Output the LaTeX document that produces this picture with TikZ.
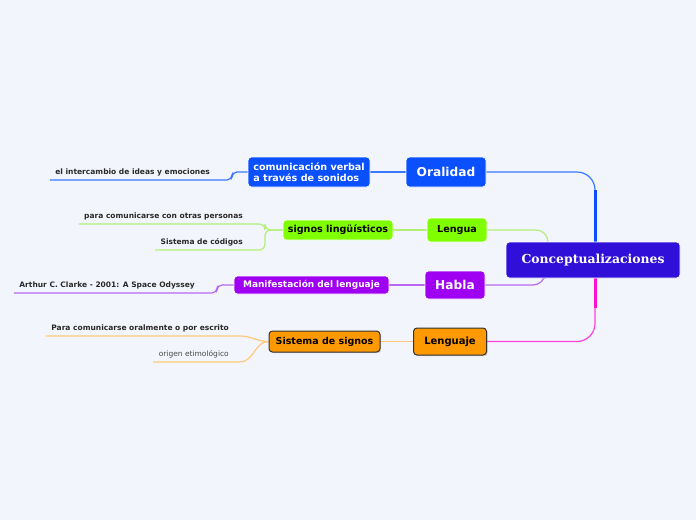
\documentclass[tikz,border=0pt]{standalone}
\usepackage{fontspec}
\setmainfont{DejaVu Sans}
\newfontfamily\rootfont{DejaVu Serif}
\usetikzlibrary{shadows}
\definecolor{bgc}{HTML}{F3F5FD}
\definecolor{rootc}{HTML}{300FD8}
\definecolor{bluec}{HTML}{0A50FF}
\definecolor{bluel}{HTML}{3A78FF}
\definecolor{greenc}{HTML}{80FF00}
\definecolor{greenl}{HTML}{B2EE78}
\definecolor{purc}{HTML}{A000F2}
\definecolor{purl}{HTML}{B868EE}
\definecolor{orc}{HTML}{FF9900}
\definecolor{orl}{HTML}{FFC77A}
\definecolor{magc}{HTML}{FF10D0}
\definecolor{txtc}{HTML}{2A2A2A}
\pgfdeclarelayer{back}
\pgfdeclarelayer{lines}
\pgfsetlayers{back,lines,main}
\tikzset{
  box/.style={rounded corners=3.5pt, draw=white, line width=0.7pt, inner sep=0pt, align=center, font=\bfseries},
  bluebox/.style={box, fill=bluec, text=white},
  greenbox/.style={box, fill=greenc, text=black},
  purbox/.style={box, fill=purc, text=white},
  orbox/.style={box, fill=orc, text=black, draw=black!80, line width=1pt,
     drop shadow={shadow xshift=1.2pt, shadow yshift=-1.2pt, opacity=0.35}},
  leaf/.style={anchor=south east, inner xsep=5pt, inner ysep=0pt, text depth=5pt, text=txtc,
     font=\fontsize{7.5}{9}\selectfont\bfseries},
  conn/.style={line width=1.2pt, line cap=round},
}
\begin{document}
\begin{tikzpicture}[x=1pt,y=-1pt]
\begin{pgfonlayer}{back}
\fill[bgc] (0,0) rectangle (696,520);
\end{pgfonlayer}
\useasboundingbox (0,0) rectangle (696,520);

% root
\node[box, fill=rootc, text=white, minimum width=174pt, minimum height=36pt, font=\rootfont\bfseries\fontsize{12.4}{14}\selectfont] (root) at (593,260) {Conceptualizaciones};

% main branches
\node[bluebox, minimum width=80pt, minimum height=30pt, font=\bfseries\fontsize{12.2}{14}\selectfont] (oral) at (446,172) {Oralidad};
\node[greenbox, minimum width=60pt, minimum height=24pt, font=\bfseries\fontsize{9.6}{11}\selectfont] (leng) at (457,230) {Lengua};
\node[purbox, minimum width=60pt, minimum height=28pt, font=\bfseries\fontsize{12.2}{14}\selectfont] (habla) at (455,285) {Habla};
\node[orbox, minimum width=73pt, minimum height=27pt, font=\bfseries\fontsize{10}{12}\selectfont] (lenguaje) at (450,341.5) {Lenguaje};

% second level
\node[bluebox, align=left, minimum width=122pt, minimum height=30pt, font=\bfseries\fontsize{9.6}{11.5}\selectfont] (comm) at (309,172) {comunicación verbal\\a través de sonidos};
\node[greenbox, minimum width=110pt, minimum height=20pt, font=\bfseries\fontsize{9.6}{11}\selectfont] (signos) at (338,230) {signos lingüísticos};
\node[purbox, minimum width=155pt, minimum height=18pt, font=\bfseries\fontsize{9}{11}\selectfont] (manif) at (311.5,285) {Manifestación del lenguaje};
\node[orbox, minimum width=111pt, minimum height=21pt, font=\bfseries\fontsize{9.5}{11}\selectfont] (sistema) at (324.5,341.5) {Sistema de signos};

% leaves
\node[leaf] (l1) at (215,180) {el intercambio de ideas y emociones};
\node[leaf] (l2) at (248,224) {para comunicarse con otras personas};
\node[leaf] (l3) at (248,250) {Sistema de códigos};
\node[leaf] (l4) at (200,293) {Arthur C. Clarke - 2001: A Space Odyssey};
\node[leaf] (l5) at (234,336) {Para comunicarse oralmente o por escrito};
\node[leaf, font=\fontsize{7.5}{9}\selectfont, text=txtc!85] (l6) at (234,362) {origen etimológico};

\begin{pgfonlayer}{lines}
% root connectors
\draw[conn, bluel, rounded corners=18pt] (oral.east) -| ([xshift=2pt]root.north);
\draw[bluec, line width=3pt] ([xshift=2pt]root.north) -- ++(0,-52);
\draw[conn, greenl, rounded corners=12pt] (leng.east) -| ([xshift=-45pt]root.north);
\draw[conn, purl, rounded corners=12pt] (habla.east) -| ([xshift=-48pt]root.south);
\draw[conn, magc!80, rounded corners=18pt] (lenguaje.east) -| ([xshift=2pt]root.south);
\draw[magc, line width=3pt] ([xshift=2pt]root.south) -- ++(0,30);
% sibling connectors
\draw[conn, bluel] (comm.east) -- (oral.west);
\draw[conn, greenl] (signos.east) -- (leng.west);
\draw[conn, purl] (manif.east) -- (habla.west);
\draw[conn, orl] (sistema.east) -- (lenguaje.west);
% leaf connectors
\draw[conn, bluel, rounded corners=5pt] (l1.south west) -- ([xshift=17pt]l1.south east) |- (comm.west);
\draw[conn, greenl, rounded corners=6pt] (l2.south west) -- ([xshift=17pt]l2.south east) |- (signos.west);
\draw[conn, greenl, rounded corners=6pt] (l3.south west) -- ([xshift=17pt]l3.south east) |- (signos.west);
\draw[conn, purl, rounded corners=5pt] (l4.south west) -- ([xshift=17pt]l4.south east) |- (manif.west);
\draw[conn, orl] (l5.south west) -- ([xshift=6pt]l5.south east) to[out=0,in=180] (sistema.west);
\draw[conn, orl] (l6.south west) -- ([xshift=6pt]l6.south east) to[out=0,in=180] (sistema.west);
\end{pgfonlayer}
\end{tikzpicture}
\end{document}
